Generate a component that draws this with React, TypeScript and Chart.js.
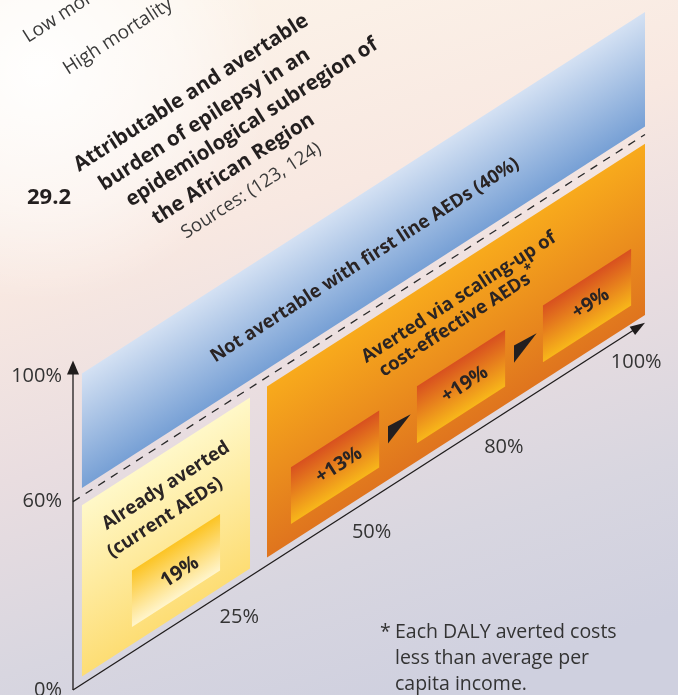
import React, { useEffect, useRef } from 'react';
import { Chart, registerables } from 'chart.js';

Chart.register(...registerables);

// ---------------- data ----------------
const yTickValues = [0, 60, 100];
const coverageLabels = ['25%', '50%', '80%', '100%'];
const avertablePct = 60;
const notAvertablePct = 40;
const alreadyAvertedPct = 19;
const scaleUpGains = [13, 19, 9];

const titleLines = [
  'Attributable and avertable',
  'burden of epilepsy in an',
  'epidemiological subregion of',
  'the African Region',
];
const sourcesText = 'Sources: (123, 124)';
const figureNumber = '29.2';
const mortalityLabels = ['Low mortality', 'High mortality'];
const alreadyLines = ['Already averted', '(current AEDs)'];
const scaleUpLines = ['Averted via scaling-up of', 'cost-effective AEDs'];
const footnoteLines = ['Each DALY averted costs', 'less than average per', 'capita income.'];

// ---------------- layout ----------------
const W = 678;
const H = 695;
const AREA = { left: 73, right: 645, top: 12, bottom: 690 };
const X_MAX = 4.54; // stage units (first stage 1.54 wide, the others 1)
const FIRST = 1.54;
const Y_MAX = 216;
const SLOPE = 0.642; // pixel slope of the sheared plane
const K = (SLOPE * ((AREA.right - AREA.left) / X_MAX)) / ((AREA.bottom - AREA.top) / Y_MAX);
const ANG = Math.atan(SLOPE);
const AXIS_TOP = 105;
const FONT = '"Open Sans", Lato, sans-serif';
const INK = '#2a2424';

const sk = (x: number, p: number) => ({ x, y: p + K * x });
const quad = (x0: number, x1: number, p0: number, p1: number) => [sk(x0, p0), sk(x1, p0), sk(x1, p1), sk(x0, p1)];

function grad(x0: number, x1: number, p0: number, p1: number, stops: [number, string][]) {
  return (c: any) => {
    const chart = c.chart;
    const xs = chart.scales?.x;
    const ys = chart.scales?.y;
    if (!chart.chartArea || !xs || !ys) return stops[stops.length - 1][1];
    const xm = (x0 + x1) / 2;
    const px = xs.getPixelForValue(xm);
    const yt = ys.getPixelForValue(p1 + K * xm);
    const yb = ys.getPixelForValue(p0 + K * xm);
    const f = (yb - yt) / (1 + SLOPE * SLOPE);
    const g = chart.ctx.createLinearGradient(px, yt, px + SLOPE * f, yt + f);
    stops.forEach(([o, col]) => g.addColorStop(o, col));
    return g;
  };
}

function rotText(ctx: CanvasRenderingContext2D, text: string, x: number, y: number, font: string, align: CanvasTextAlign = 'center', baseline: CanvasTextBaseline = 'middle', color = INK) {
  ctx.save();
  ctx.translate(x, y);
  ctx.rotate(-ANG);
  ctx.font = font;
  ctx.fillStyle = color;
  ctx.textAlign = align;
  ctx.textBaseline = baseline;
  ctx.fillText(text, 0, 0);
  ctx.restore();
}

function arrow(ctx: CanvasRenderingContext2D, tip: number[], dir: number[], len: number, half: number) {
  const [tx, ty] = tip;
  const [dx, dy] = dir;
  const bx = tx - dx * len;
  const by = ty - dy * len;
  ctx.beginPath();
  ctx.moveTo(tx, ty);
  ctx.lineTo(bx - dy * half, by + dx * half);
  ctx.lineTo(bx + dy * half, by - dx * half);
  ctx.closePath();
  ctx.fill();
}

const bgPlugin = {
  id: 'bg',
  beforeDraw(chart: any) {
    const { ctx, width, height } = chart;
    ctx.save();
    const g = ctx.createLinearGradient(200, 0, 420, height);
    g.addColorStop(0, '#fcf3e9');
    g.addColorStop(0.3, '#f8e8e1');
    g.addColorStop(0.55, '#e9dde0');
    g.addColorStop(0.8, '#d8d6e0');
    g.addColorStop(1, '#cfd0df');
    ctx.fillStyle = g;
    ctx.fillRect(0, 0, width, height);
    const r = ctx.createRadialGradient(40, 70, 0, 40, 70, 230);
    r.addColorStop(0, 'rgba(255,255,255,0.95)');
    r.addColorStop(0.6, 'rgba(255,255,255,0.5)');
    r.addColorStop(1, 'rgba(255,255,255,0)');
    ctx.fillStyle = r;
    ctx.fillRect(0, 0, width, height);
    ctx.restore();
  },
};

const labelPlugin = {
  id: 'labels',
  afterDatasetsDraw(chart: any) {
    const ctx: CanvasRenderingContext2D = chart.ctx;
    const xs = chart.scales.x;
    const ys = chart.scales.y;
    const P = (x: number, p: number): [number, number] => [xs.getPixelForValue(x), ys.getPixelForValue(p + K * x)];

    // axis arrowheads
    ctx.save();
    ctx.fillStyle = '#1f1c1c';
    arrow(ctx, P(0, AXIS_TOP), [0, -1], 14, 6);
    const n = Math.sqrt(1 + SLOPE * SLOPE);
    arrow(ctx, P(X_MAX, 0), [1 / n, -SLOPE / n], 15, 5);
    ctx.restore();

    const faceBold = `bold 18.5px ${FONT}`;
    const boxBold = `bold 19.5px ${FONT}`;

    // band label
    rotText(ctx, `Not avertable with first line AEDs (${notAvertablePct}%)`, ...P(2.317, 77.2), `bold 18.5px ${FONT}`);

    // already averted
    rotText(ctx, alreadyLines[0], ...P(0.738, 46), faceBold);
    rotText(ctx, alreadyLines[1], ...P(0.73, 36.1), faceBold);
    rotText(ctx, `${alreadyAvertedPct}%`, ...P(0.849, 15.7), `bold 20px ${FONT}`);

    // scaling up
    rotText(ctx, scaleUpLines[0], ...P(3.063, 46.1), faceBold);
    {
      const [cx, cy] = P(3.056, 38.2);
      ctx.save();
      ctx.translate(cx, cy);
      ctx.rotate(-ANG);
      ctx.font = faceBold;
      ctx.fillStyle = INK;
      ctx.textBaseline = 'middle';
      ctx.textAlign = 'left';
      const mw = ctx.measureText(scaleUpLines[1]).width;
      ctx.font = `bold 14px ${FONT}`;
      const sw = ctx.measureText('*').width;
      const x0 = -(mw + sw) / 2;
      ctx.font = faceBold;
      ctx.fillText(scaleUpLines[1], x0, 0);
      ctx.font = `bold 14px ${FONT}`;
      ctx.fillText('*', x0 + mw + 1, -7);
      ctx.restore();
    }
    scaleUpGains.forEach((g, i) => {
      rotText(ctx, `+${g}%`, ...P(FIRST + i + 0.57, 17.2), boxBold);
    });

    // coverage tick labels along the sheared axis
    coverageLabels.forEach((lab, i) => {
      const [x, y] = P(FIRST + i - 0.22 + 0.05 * i, -10.8);
      ctx.save();
      ctx.font = `20px ${FONT}`;
      ctx.fillStyle = '#333';
      ctx.textAlign = 'center';
      ctx.textBaseline = 'middle';
      ctx.fillText(lab, x, y);
      ctx.restore();
    });

    // heading block (top left)
    const reg = `19px ${FONT}`;
    rotText(ctx, mortalityLabels[0], 28, 43, reg, 'left', 'alphabetic', '#3a3a3a');
    rotText(ctx, mortalityLabels[1], 68, 75, reg, 'left', 'alphabetic', '#3a3a3a');
    const anchors = [[79, 172], [104, 191], [131, 207], [157, 225]];
    titleLines.forEach((t, i) => rotText(ctx, t, anchors[i][0], anchors[i][1], `bold 20.5px ${FONT}`, 'left', 'alphabetic', '#231f1f'));
    rotText(ctx, sourcesText, 186, 239, `18.5px ${FONT}`, 'left', 'alphabetic', '#3a3a3a');
    ctx.save();
    ctx.font = `bold 22px ${FONT}`;
    ctx.fillStyle = '#231f1f';
    ctx.textAlign = 'left';
    ctx.textBaseline = 'alphabetic';
    ctx.fillText(figureNumber, 27, 204);
    ctx.restore();

    // footnote
    ctx.save();
    ctx.font = `19.5px ${FONT}`;
    ctx.fillStyle = '#333';
    ctx.textAlign = 'left';
    ctx.textBaseline = 'alphabetic';
    ctx.fillText('*', 380, 638);
    footnoteLines.forEach((t, i) => ctx.fillText(t, 395, 638 + i * 26));
    ctx.restore();
  },
};

export default function App() {
  const ref = useRef<HTMLCanvasElement>(null);
  useEffect(() => {
    const canvas = ref.current;
    if (!canvas) return;

    const shapes: any[] = [];
    const topBox = avertablePct - 3;
    // not avertable band
    shapes.push({ pts: quad(0.071, X_MAX, avertablePct + 2.5, avertablePct + notAvertablePct - 1), bg: grad(0.071, X_MAX, avertablePct + 2.5, avertablePct + notAvertablePct - 1, [[0, '#d4e1f3'], [1, '#77a0d5']]) });
    // already averted box
    shapes.push({ pts: quad(0.071, 1.405, 2.5, topBox), bg: grad(0.071, 1.405, 2.5, topBox, [[0, '#fff8c8'], [1, '#fddd74']]) });
    shapes.push({ pts: quad(0.468, 1.167, 8, 26), bg: grad(0.468, 1.167, 8, 26, [[0, '#fcc424'], [1, '#fff5cc']]) });
    // scaling-up box
    shapes.push({ pts: quad(FIRST, X_MAX, 2.5, topBox), bg: grad(FIRST, X_MAX, 2.5, topBox, [[0, '#f8aa1c'], [1, '#df741e']]) });
    scaleUpGains.forEach((_, i) => {
      const s = FIRST + i;
      shapes.push({ pts: quad(s + 0.19, s + 0.89, 8.3, 26.4), bg: grad(s + 0.19, s + 0.89, 8.3, 26.4, [[0, '#d8501f'], [1, '#f8b71a']]) });
    });
    scaleUpGains.slice(1).forEach((_, i) => {
      const b = FIRST + i + 1;
      shapes.push({ pts: [sk(b - 0.04, 19.6), sk(b + 0.14, 18.8), sk(b - 0.04, 14.1)], bg: '#231f20' });
    });

    const datasets: any[] = [];
    shapes.forEach((s) => {
      datasets.push({
        data: s.pts,
        fill: 'shape',
        backgroundColor: s.bg,
        borderColor: 'rgba(0,0,0,0)',
        borderWidth: 0,
        pointRadius: 0,
        pointHoverRadius: 0,
        tension: 0,
        clip: false,
      });
    });
    // dashed 60% line
    datasets.push({
      data: [sk(0, avertablePct), sk(X_MAX, avertablePct)],
      fill: false,
      borderColor: '#2a2a2a',
      borderWidth: 1.3,
      borderDash: [8, 7],
      pointRadius: 0,
      clip: false,
    });
    // axes
    datasets.push({
      data: [sk(0, 0), sk(0, AXIS_TOP - 4)],
      fill: false,
      borderColor: '#1f1c1c',
      borderWidth: 1.3,
      pointRadius: 0,
      clip: false,
    });
    datasets.push({
      data: [sk(0, 0), sk(X_MAX - 0.08, 0)],
      fill: false,
      borderColor: '#1f1c1c',
      borderWidth: 1.3,
      pointRadius: 0,
      clip: false,
    });
    const N = datasets.length;
    datasets.forEach((d, i) => (d.order = N - i));

    const chart = new Chart(canvas, {
      type: 'line',
      data: { datasets },
      options: {
        animation: false,
        responsive: false,
        maintainAspectRatio: false,
        devicePixelRatio: 1,
        events: [],
        layout: { padding: { left: 0, right: W - AREA.right, top: AREA.top, bottom: H - AREA.bottom } },
        plugins: { legend: { display: false }, tooltip: { enabled: false } },
        scales: {
          x: { type: 'linear', min: 0, max: X_MAX, display: false },
          y: {
            type: 'linear',
            min: 0,
            max: Y_MAX,
            afterBuildTicks: (s: any) => {
              s.ticks = yTickValues.map((v) => ({ value: v }));
            },
            afterFit: (s: any) => {
              s.width = AREA.left;
              s.paddingTop = 0;
              s.paddingBottom = 0;
            },
            grid: { display: false, drawTicks: false },
            border: { display: false },
            ticks: {
              autoSkip: false,
              padding: 11,
              color: '#333',
              font: { family: FONT, size: 20 },
              callback: (v: any) => `${v}%`,
            },
          },
        },
      } as any,
      plugins: [bgPlugin, labelPlugin],
    });
    return () => chart.destroy();
  }, []);

  return (
    <div style={{ position: 'fixed', left: 0, top: 0, width: W, height: H }}>
      <canvas ref={ref} width={W} height={H} style={{ display: 'block', width: W, height: H }} />
    </div>
  );
}
